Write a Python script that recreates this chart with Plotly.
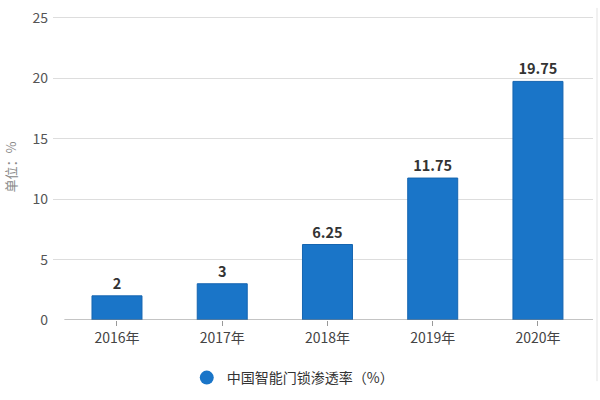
import plotly.graph_objects as go

categories = ["2016年", "2017年", "2018年", "2019年", "2020年"]
values = [2, 3, 6.25, 11.75, 19.75]
value_labels = ["2", "3", "6.25", "11.75", "19.75"]
series_name = "中国智能门锁渗透率（%）"
y_ticks = [0, 5, 10, 15, 20, 25]

FONT = "Noto Sans CJK SC, Microsoft YaHei, sans-serif"
BLUE = "#1a75c8"

fig = go.Figure()
fig.add_trace(go.Bar(
    x=categories, y=values, width=0.475,
    marker=dict(color=BLUE, line=dict(color="#1565b0", width=1)),
    text=["<b>%s</b>" % t for t in value_labels], textposition="outside",
    textfont=dict(family=FONT, size=14.5, color="#333333"),
    cliponaxis=False, showlegend=False, name=series_name,
))
fig.add_trace(go.Scatter(
    x=[None], y=[None], mode="markers", name=series_name,
    marker=dict(symbol="circle", size=14, color=BLUE),
))

fig.update_layout(
    width=600, height=400,
    margin=dict(l=53, r=7, t=14, b=80, autoexpand=False),
    plot_bgcolor="white", paper_bgcolor="white",
    font=dict(family=FONT, size=13, color="#555555"),
    xaxis=dict(
        type="category", range=[-0.608, 4.523], automargin=False,
        showgrid=False, showline=False, zeroline=False,
        ticks="outside", ticklen=5, tickcolor="#999999",
        tickfont=dict(size=14, color="#444444"),
    ),
    yaxis=dict(
        range=[0, 25.33], tickvals=y_ticks, automargin=False,
        showgrid=True, gridcolor="#dddddd", gridwidth=1,
        zeroline=False, showline=False,
        tickfont=dict(size=14, color="#555555"), ticklabelstandoff=4,
        title=dict(text="单位：%", font=dict(size=13, color="#888888"), standoff=12),
    ),
    legend=dict(
        orientation="h", x=0.444, xanchor="center",
        yref="container", y=0.055, yanchor="middle",
        font=dict(size=14, color="#333333"),
    ),
    shapes=[
        dict(type="line", xref="x", yref="y", x0=-0.5, x1=4.523, y0=0, y1=0,
             line=dict(color="#888888", width=1)),
        dict(type="line", xref="paper", yref="paper", x0=1.0074, x1=1.0074,
             y0=-0.2, y1=1.02, line=dict(color="#e3e3e3", width=1)),
    ],
)

fig.write_html("out.html", config={"displayModeBar": False},
               post_script="document.body.style.margin='0';")
